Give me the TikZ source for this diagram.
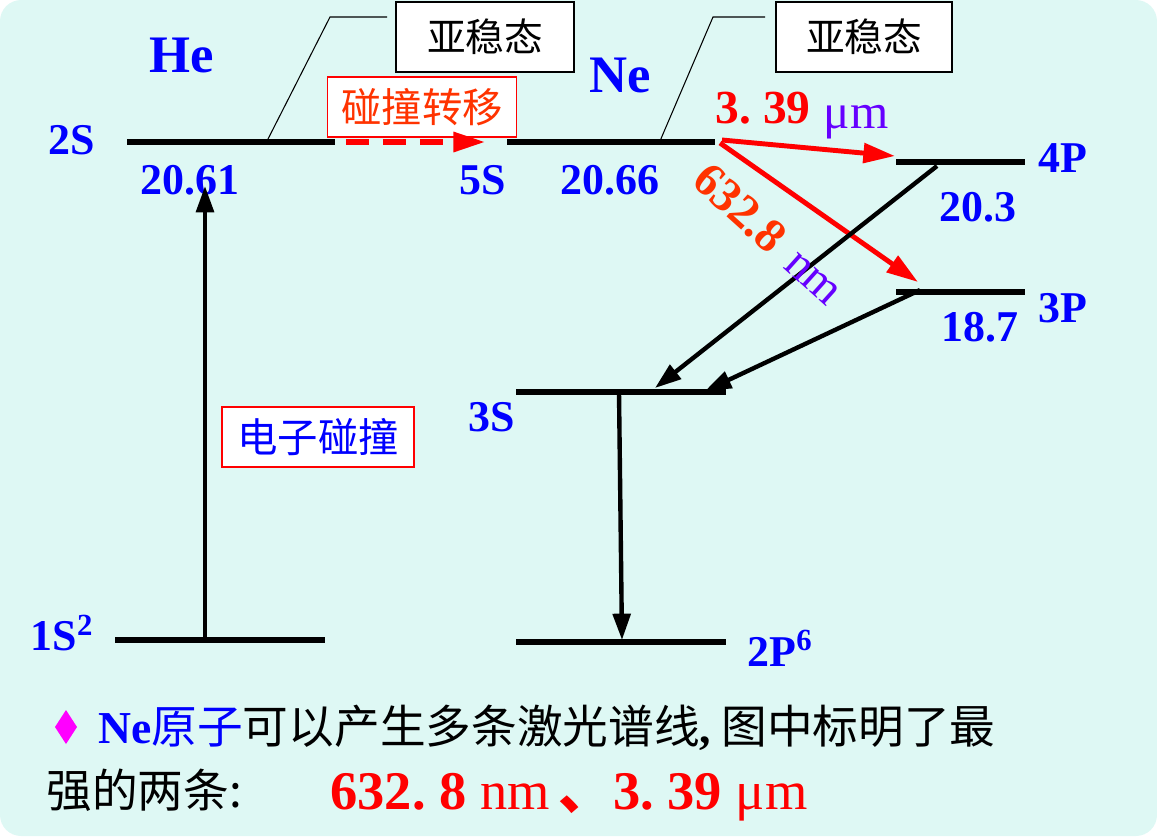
\documentclass[tikz,border=0pt]{standalone}
\usepackage{fontspec}
\setmainfont{Liberation Serif}
\newfontfamily\cjk{Noto Sans CJK SC}
\usetikzlibrary{arrows.meta}
\definecolor{bg}{RGB}{222,248,244}
\definecolor{lblue}{RGB}{0,0,255}
\definecolor{lred}{RGB}{255,0,0}
\definecolor{lorange}{RGB}{255,51,0}
\definecolor{lpurple}{RGB}{102,0,255}
\definecolor{lmag}{RGB}{255,0,255}
\begin{document}
\begin{tikzpicture}[x=0.02cm,y=-0.02cm,
  level/.style={line width=3pt},
  lbl/.style={text=lblue,font=\fontsize{25}{25}\selectfont\bfseries,inner sep=0pt},
  atom/.style={text=lblue,font=\fontsize{30}{30}\selectfont\bfseries,inner sep=0pt},
  callout/.style={draw=black,line width=0.8pt,fill=white,minimum height=1.4cm,inner sep=0pt,font=\cjk\fontsize{22}{22}\selectfont},
  redbox/.style={draw=lred,line width=0.8pt,fill=white,minimum height=1.2cm,inner sep=0pt,font=\cjk\fontsize{23}{23}\selectfont},
  leader/.style={line width=0.6pt},
  trans/.style={line width=2.5pt,-{Triangle[length=15pt,width=10pt]}},
  redtrans/.style={line width=2.8pt,lred,-{Triangle[length=18pt,width=11pt]}},
  cjktext/.style={font=\cjk\fontsize{26}{26}\selectfont,inner sep=0pt,anchor=west}
]
\useasboundingbox (0,0) rectangle (1157,836);
\fill[bg,rounded corners=12pt] (0,0) rectangle (1157,836);

% --- level lines ---
\coordinate (he2sL) at (127,142); \coordinate (he2sR) at (335,142);
\coordinate (he1sL) at (115,640); \coordinate (he1sR) at (325,640);
\coordinate (ne5sL) at (507,142); \coordinate (ne5sR) at (715,142);
\coordinate (ne4pL) at (896,162); \coordinate (ne4pR) at (1025,162);
\coordinate (ne3pL) at (896,292); \coordinate (ne3pR) at (1025,292);
\coordinate (ne3sL) at (516,392); \coordinate (ne3sR) at (726,392);
\coordinate (ne2pL) at (516,642); \coordinate (ne2pR) at (726,642);
\draw[level] (he2sL) -- (he2sR);
\draw[level] (he1sL) -- (he1sR);
\draw[level] (ne5sL) -- (ne5sR);
\draw[level] (ne4pL) -- (ne4pR);
\draw[level] (ne3pL) -- (ne3pR);
\draw[level] (ne3sL) -- (ne3sR);
\draw[level] (ne2pL) -- (ne2pR);

% --- labels ---
\node[atom] (He) at (182,55) {He};
\node[atom] (Ne) at (620,75) {Ne};
\node[lbl] (l2S) at (72,140) {2S};
\node[lbl] (v2061) at (190,180) {20.61};
\node[lbl] (l5S) at (483,180) {5S};
\node[lbl] (v2066) at (610,180) {20.66};
\node[lbl] (l4P) at (1063,158) {4P};
\node[lbl] (v203) at (978,207) {20.3};
\node[lbl] (l3P) at (1063,308) {3P};
\node[lbl] (v187) at (980,327) {18.7};
\node[lbl] (l3S) at (492,417) {3S};
\node[lbl] (l1S) at (62,633) {1S\textsuperscript{2}};
\node[lbl] (l2P) at (780,648) {2P\textsuperscript{6}};

% --- callouts ---
\node[callout,minimum width=3.56cm] (ms1) at (485,37) {亚稳态};
\node[callout,minimum width=3.52cm] (ms2) at (864,37) {亚稳态};
\coordinate (k1a) at (387,17); \coordinate (k1b) at (330,17); \coordinate (k1c) at (267,141);
\coordinate (k2a) at (765,17); \coordinate (k2b) at (713,17); \coordinate (k2c) at (660,141);
\draw[leader] (k1a) -- (k1b) -- (k1c);
\draw[leader] (k2a) -- (k2b) -- (k2c);
\node[redbox,minimum width=3.78cm,text=lorange] (coll) at (422,107) {碰撞转移};
\node[redbox,minimum width=3.84cm,text=lblue] (exc) at (318,437) {电子碰撞};

% --- transitions ---
\coordinate (a1s) at (205,640); \coordinate (a1e) at (205,186);
\draw[trans] (a1s) -- (a1e);
\coordinate (dS) at (346,142); \coordinate (dE) at (485,142);
\draw[lred,line width=3pt,dash pattern=on 13pt off 8pt,-{Triangle[length=18pt,width=11pt]}] (dS) -- (dE);
\coordinate (r1s) at (722,140); \coordinate (r1e) at (895,156);
\draw[redtrans] (r1s) -- (r1e);
\coordinate (r2s) at (720,143); \coordinate (r2e) at (918,282);
\draw[redtrans] (r2s) -- (r2e);
\coordinate (b1s) at (937,166); \coordinate (b1e) at (655,388);
\draw[trans] (b1s) -- (b1e);
\coordinate (b2s) at (920,290); \coordinate (b2e) at (705,391);
\draw[trans] (b2s) -- (b2e);
\coordinate (b3s) at (619,392); \coordinate (b3e) at (622,640);
\draw[trans] (b3s) -- (b3e);

% --- wavelength labels ---
\node[text=lred,font=\fontsize{27}{27}\selectfont\bfseries,inner sep=0pt] (w339) at (763,108) {3.\ 39};
\node[text=lpurple,font=\fontsize{28}{28}\selectfont,inner sep=0pt] (wum) at (856,122) {μm};
\node[text=lorange,font=\fontsize{27}{27}\selectfont\bfseries,inner sep=0pt,rotate=-42] (w6328) at (740,208) {632.8};
\node[text=lpurple,font=\fontsize{27}{27}\selectfont,inner sep=0pt,rotate=-42] (wnm) at (812,279) {nm};

% --- bottom text ---
\fill[lmag] (66,710) -- (77,727) -- (66,744) -- (55,727) -- cycle;
\node[cjktext] (t1) at (98,728) {{\color{lblue}\rmfamily\bfseries Ne}{\color{lblue}原子}可以产生多条激光谱线{\rmfamily\bfseries ,} 图中标明了最};
\node[cjktext] (t2) at (46,790) {强的两条:};
\node[inner sep=0pt,anchor=west,text=lred,font=\fontsize{31}{31}\selectfont\bfseries] (t3) at (330,797) {632.\ 8 {\mdseries nm}{\cjk\,、}3.\ 39 {\mdseries μm}};
\end{tikzpicture}
\end{document}
